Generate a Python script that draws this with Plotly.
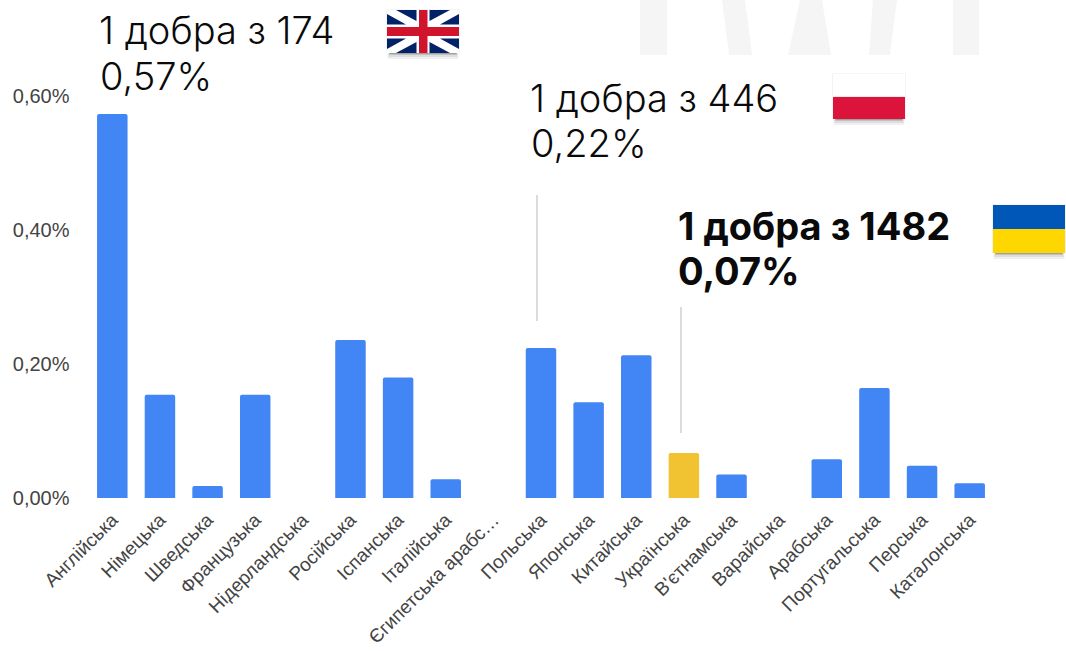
import plotly.graph_objects as go

categories = ["Англійська", "Німецька", "Шведська", "Французька", "Нідерландська", "Російська",
              "Іспанська", "Італійська", "Єгипетська арабс…", "Польська", "Японська", "Китайська",
              "Українська", "В'єтнамська", "Варайська", "Арабська", "Португальська", "Перська", "Каталонська"]
values = [0.573, 0.154, 0.018, 0.154, 0.0, 0.236, 0.18, 0.028, 0.0, 0.224, 0.143, 0.213,
          0.067, 0.035, 0.0, 0.058, 0.164, 0.048, 0.022]
highlight = "Українська"
y_ticks = [0, 0.2, 0.4, 0.6]
y_tick_labels = ["0,00%", "0,20%", "0,40%", "0,60%"]
callouts = [("1 добра з 174", 97, 30, 300), ("0,57%", 98, 76, 300),
            ("1 добра з 446", 528, 98, 300), ("0,22%", 529, 143, 300),
            ("<b>1 добра з 1482</b>", 676, 226, 800), ("<b>0,07%</b>", 676, 271, 800)]

W, H = 1066, 651
BLUE, YELLOW = "#4285f4", "#f1c232"
fx = lambda p: p / W
fy = lambda p: 1 - p / H

fig = go.Figure(go.Bar(x=categories, y=values, width=0.64,
                       marker=dict(color=[YELLOW if c == highlight else BLUE for c in categories],
                                   cornerradius=2, line_width=0)))

shapes = []
def poly(points, color, layer="above"):
    p = "M " + " L ".join("%f %f" % (fx(x), fy(y)) for x, y in points) + " Z"
    shapes.append(dict(type="path", xref="paper", yref="paper", path=p, fillcolor=color, line_width=0, layer=layer))
def rect(x0, y0, x1, y1, color, layer="above"):
    poly([(x0, y0), (x1, y0), (x1, y1), (x0, y1)], color, layer)
def line(x, y0, y1):
    shapes.append(dict(type="line", xref="paper", yref="paper", x0=fx(x), x1=fx(x), y0=fy(y0), y1=fy(y1),
                       line=dict(color="#c4c4c4", width=1.2)))
def flagshadow(x0, y0, x1, y1):
    rect(x0 - 0.6, y0 - 0.6, x1 + 0.6, y1, "#ececec", "below")
    for d, c in ((6, "#f0f0f0"), (4, "#dedede"), (2, "#c0c0c0"), (1, "#a0a0a0")):
        rect(x0 + 3 - d * 0.4, y1 - 2, x1 - 3 + d * 0.4, y1 + d, c, "below")

# watermark
WM = "#f5f5f5"
rect(640, 0, 667, 55, WM, "below")
poly([(722, 0), (745, 0), (752, 55), (729, 55)], WM, "below")
poly([(800, 0), (822, 0), (831, 55), (788, 55)], WM, "below")
poly([(873, 0), (897, 0), (890, 55), (869, 55)], WM, "below")
rect(953, 0, 979, 55, WM, "below")
# leader lines
line(537, 195, 321)
line(681, 307, 433)

# UK flag
flagshadow(387, 10, 459, 53)
rect(387, 10, 459, 53, "#ffffff")
navy = "#012169"
for sx in (False, True):
    for sy in (False, True):
        X = (lambda v: 846 - v) if sx else (lambda v: v)
        Y = (lambda v: 63 - v) if sy else (lambda v: v)
        poly([(X(396), Y(10)), (X(416.5), Y(10)), (X(416.5), Y(21))], navy)
        poly([(X(387), Y(14)), (X(387), Y(24.5)), (X(406), Y(24.5))], navy)
rect(387, 27, 459, 36, "#cf142b")
rect(419, 10, 427.5, 53, "#cf142b")

# Polish flag
flagshadow(833, 74, 905, 119)
rect(833, 74, 905, 96, "#ffffff")
rect(833, 97, 905, 119, "#dc143c")

# Ukrainian flag
flagshadow(993, 205, 1065, 253)
rect(993, 205, 1065, 229, "#0057b7")
rect(993, 229, 1065, 253, "#ffd700")

annotations = [dict(text=t, x=fx(x), y=fy(y), xref="paper", yref="paper", xanchor="left", yanchor="middle",
                    showarrow=False, align="left",
                    font=dict(family="Inter", size=38, color="#0a0a0a", weight=w))
               for t, x, y, w in callouts]

TICK = dict(family="Liberation Sans", size=20, color="#444444")
XTICK = dict(family="Liberation Sans", size=19, color="#444444")
fig.update_layout(
    width=W, height=H, autosize=False, margin=dict(l=0, r=0, t=0, b=0),
    paper_bgcolor="white", plot_bgcolor="rgba(0,0,0,0)", showlegend=False, bargap=0.36,
    shapes=shapes, annotations=annotations,
    font=TICK,
    xaxis=dict(domain=[fx(88.5), fx(993.5)], anchor="y", tickangle=-45, showgrid=False, zeroline=False,
               showline=False, ticks="", tickfont=XTICK, automargin=False, ticklabelstandoff=6),
    yaxis=dict(domain=[fy(498), fy(96)], range=[0, 0.6], tickvals=y_ticks, ticktext=y_tick_labels,
               showgrid=False, zeroline=False, showline=False, ticks="", automargin=False,
               tickfont=TICK, ticklabelstandoff=18),
)
fig.write_html("out.html", config={"displayModeBar": False}, post_script="document.body.style.margin='0';")
